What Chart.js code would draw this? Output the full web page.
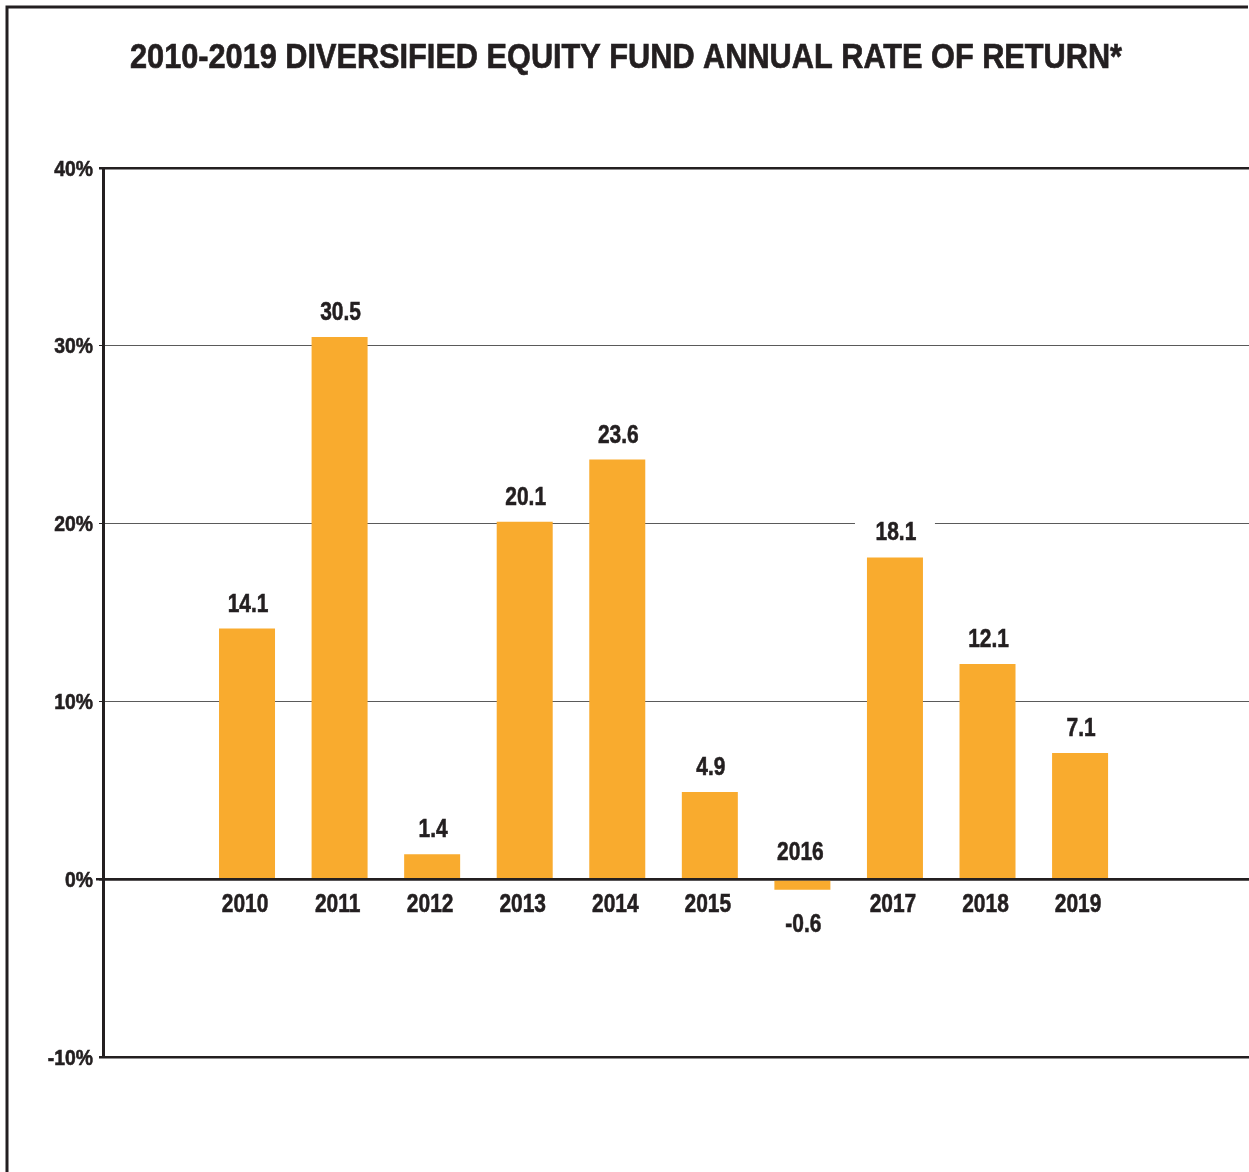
<!DOCTYPE html>
<html>
<head>
<meta charset="utf-8">
<script src="https://cdn.jsdelivr.net/npm/chart.js@4.4.1/dist/chart.umd.min.js"></script>
<style>
  html, body { margin: 0; padding: 0; background: #ffffff; }
  #wrap { position: relative; width: 1249px; height: 1172px; }
</style>
</head>
<body>
<div id="wrap"><canvas id="chart" width="1249" height="1172"></canvas></div>
<script>
// chart data
const titleText = '2010-2019 DIVERSIFIED EQUITY FUND ANNUAL RATE OF RETURN*';
const years = [2010, 2011, 2012, 2013, 2014, 2015, 2016, 2017, 2018, 2019];
const returns = [14.1, 30.5, 1.4, 20.1, 23.6, 4.9, -0.6, 18.1, 12.1, 7.1];
const yTicks = [-10, 0, 10, 20, 30, 40];

const INK = '#231F20';
const BAR = '#F9AB2E';
const FONT = '"Liberation Sans", Arial, Helvetica, sans-serif';

// bold text squeezed horizontally to look like a condensed face
function drawCondensed(ctx, text, x, baseY, size, sx, align) {
  ctx.save();
  ctx.font = 'bold ' + size + 'px ' + FONT;
  ctx.textBaseline = 'alphabetic';
  ctx.textAlign = align || 'center';
  ctx.translate(x, baseY);
  ctx.scale(sx, 1);
  ctx.fillStyle = INK;
  ctx.strokeStyle = INK;
  ctx.lineWidth = 0.6;
  ctx.fillText(text, 0, 0);
  ctx.strokeText(text, 0, 0);
  ctx.restore();
}

const decorations = {
  id: 'decorations',
  beforeDraw(chart) {
    const ctx = chart.ctx;
    ctx.save();
    ctx.fillStyle = '#ffffff';
    ctx.fillRect(0, 0, chart.width, chart.height);
    // outer frame (left + top)
    ctx.strokeStyle = INK;
    ctx.lineWidth = 3;
    ctx.beginPath();
    ctx.moveTo(7, chart.height);
    ctx.lineTo(7, 7);
    ctx.lineTo(1248, 7);
    ctx.stroke();
    // title
    ctx.fillStyle = INK;
    ctx.strokeStyle = INK;
    ctx.lineWidth = 0.7;
    ctx.font = 'bold 35px ' + FONT;
    ctx.textAlign = 'center';
    ctx.textBaseline = 'alphabetic';
    ctx.fillText(titleText, 626, 68, 992);
    ctx.strokeText(titleText, 626, 68, 992);
    ctx.restore();
  },
  afterDraw(chart) {
    const ctx = chart.ctx;
    const y = chart.scales.y;
    yTicks.forEach(v => {
      drawCondensed(ctx, v + '%', 93, y.getPixelForValue(v) + 7.5, 21.5, 0.9, 'right');
    });
  },
  afterDatasetsDraw(chart) {
    const ctx = chart.ctx;
    const x = chart.scales.x;
    const y = chart.scales.y;
    const zeroY = y.getPixelForValue(0);
    ctx.save();
    // zero line above bars
    ctx.strokeStyle = INK;
    ctx.lineWidth = 2.5;
    ctx.beginPath();
    ctx.moveTo(96, zeroY);
    ctx.lineTo(chart.chartArea.right, zeroY);
    ctx.stroke();

    years.forEach((yr, i) => {
      const v = returns[i];
      const cx = x.getPixelForValue(yr);
      const vy = y.getPixelForValue(v);
      const valText = v.toFixed(1);
      let valBase, yearBase;
      if (v >= 0) {
        valBase = vy - 17;
        yearBase = zeroY + 32.5;
      } else {
        valBase = vy + 42;
        yearBase = zeroY - 19;
      }
      // white box behind value label (breaks gridlines)
      ctx.font = 'bold 26px ' + FONT;
      const w = ctx.measureText(valText).width * 0.79;
      ctx.fillStyle = '#ffffff';
      ctx.fillRect(cx - w / 2 - 20, valBase - 25, w + 40, 32);
      drawCondensed(ctx, valText, cx + 1, valBase, 26.5, 0.79);
      drawCondensed(ctx, String(yr), cx - 2, yearBase, 26.5, 0.79);
    });
    ctx.restore();
  }
};

const data = years.map((yr, i) => ({ x: yr, y: returns[i] }));

new Chart(document.getElementById('chart'), {
  type: 'bar',
  data: {
    datasets: [{
      data: data,
      backgroundColor: BAR,
      borderWidth: 0,
      barPercentage: 0.605,
      categoryPercentage: 1
    }]
  },
  options: {
    responsive: false,
    animation: false,
    devicePixelRatio: 1,
    layout: { padding: { top: 168, bottom: 115, left: 0, right: 0 } },
    plugins: {
      legend: { display: false },
      tooltip: { enabled: false },
      title: { display: false }
    },
    scales: {
      x: {
        type: 'linear',
        min: 2008.444,
        max: 2020.825,
        offset: false,
        grid: { offset: false },
        display: false
      },
      y: {
        min: -10,
        max: 40,
        afterBuildTicks(scale) {
          scale.ticks = yTicks.map(v => ({ value: v }));
        },
        afterFit(scale) {
          scale.width = 103;
        },
        border: { display: true, color: INK, width: 3 },
        grid: {
          drawTicks: true,
          tickLength: 4,
          tickColor: INK,
          color(ctx) {
            const v = ctx.tick && ctx.tick.value;
            return (v === 40 || v === 0 || v === -10) ? INK : '#5a5a5a';
          },
          lineWidth(ctx) {
            const v = ctx.tick && ctx.tick.value;
            return (v === 40 || v === 0 || v === -10) ? 2.5 : 1;
          }
        },
        ticks: {
          display: true,
          padding: 6,
          color: 'rgba(0,0,0,0)',
          font: { family: FONT, size: 21, weight: 'bold' },
          callback: v => v + '%'
        }
      }
    }
  },
  plugins: [decorations]
});
</script>
</body>
</html>
